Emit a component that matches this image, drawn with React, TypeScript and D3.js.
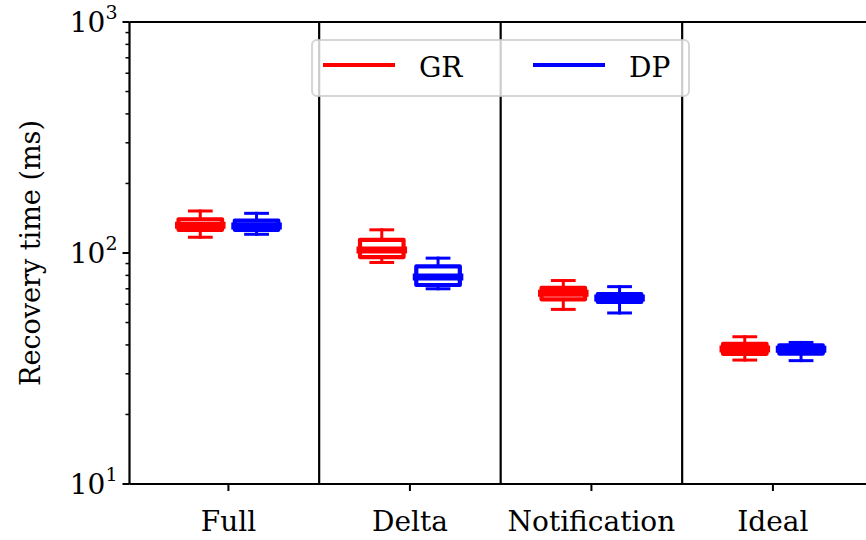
import * as d3 from "d3";

const WIDTH = 866;
const HEIGHT = 540;
const MARGIN = { top: 22, left: 129.5, bottom: 56 };

const categories = ["Full", "Delta", "Notification", "Ideal"];

// [lower whisker, q1, median, q3, upper whisker] per category
const grBoxes = [
  [117, 126, 132, 140, 152],
  [91, 96, 103, 114, 126],
  [57, 63, 67, 70.6, 76],
  [34.4, 36.6, 38.4, 40.4, 43.4],
];
const dpBoxes = [
  [120.5, 126, 131, 138, 148.5],
  [70, 72.7, 78.7, 87.5, 95],
  [55, 61.4, 63.8, 66.4, 71.5],
  [34.2, 36.7, 38.3, 39.8, 41],
];

const seriesList = [
  { name: "GR", color: "#ff0000", offset: -0.155, boxes: grBoxes },
  { name: "DP", color: "#0000ff", offset: 0.155, boxes: dpBoxes },
];

const yMajorTicks = [10, 100, 1000];
const yExponents = ["1", "2", "3"];

const FONT = "'DejaVu Serif', serif";

const App = () => {
  const bottom = HEIGHT - MARGIN.bottom;

  const xScale = d3
    .scaleLinear()
    .domain([-0.545, 3.545])
    .range([MARGIN.left, MARGIN.left + 4.09 * 181.5]);

  const yScale = d3.scaleLog().domain([10, 1000]).range([bottom, MARGIN.top]);

  const boxWidth = xScale(0.24) - xScale(0);

  const minorTicks = yScale
    .ticks()
    .filter((t) => !yMajorTicks.includes(t));

  const separators = categories.slice(1).map((_, i) => (
    <line
      key={i}
      x1={xScale(i + 0.5)}
      x2={xScale(i + 0.5)}
      y1={MARGIN.top}
      y2={bottom}
      stroke="black"
      strokeWidth={2.2}
    />
  ));

  const boxes = seriesList.flatMap((s) =>
    s.boxes.map((b, i) => {
      const cx = xScale(i + s.offset);
      const [lo, q1, med, q3, hi] = b.map((v) => yScale(v));
      const half = boxWidth / 2;
      return (
        <g
          key={s.name + i}
          stroke={s.color}
          fill="none"
          strokeLinecap="square"
          strokeLinejoin="round"
        >
          <line x1={cx} x2={cx} y1={q3} y2={hi} strokeWidth={3} />
          <line x1={cx} x2={cx} y1={q1} y2={lo} strokeWidth={3} />
          <line x1={cx - half / 2} x2={cx + half / 2} y1={hi} y2={hi} strokeWidth={3} />
          <line x1={cx - half / 2} x2={cx + half / 2} y1={lo} y2={lo} strokeWidth={3} />
          <rect x={cx - half} y={q3} width={boxWidth} height={q1 - q3} strokeWidth={4.2} />
          <line x1={cx - half} x2={cx + half} y1={med} y2={med} strokeWidth={7} />
        </g>
      );
    })
  );

  const yTicks = yMajorTicks.map((t, i) => (
    <g key={t}>
      <line
        x1={MARGIN.left - 7}
        x2={MARGIN.left}
        y1={yScale(t)}
        y2={yScale(t)}
        stroke="black"
        strokeWidth={2}
      />
      <text
        x={MARGIN.left - 12}
        y={yScale(t) + 10}
        textAnchor="end"
        fontSize={28}
        fontFamily={FONT}
      >
        <tspan>10</tspan>
        <tspan dy={-13} fontSize={19}>
          {yExponents[i]}
        </tspan>
      </text>
    </g>
  ));

  const yMinor = minorTicks.map((t) => (
    <line
      key={t}
      x1={MARGIN.left - 4}
      x2={MARGIN.left}
      y1={yScale(t)}
      y2={yScale(t)}
      stroke="black"
      strokeWidth={1.5}
    />
  ));

  const xTicks = categories.map((c, i) => (
    <g key={c}>
      <line
        x1={xScale(i)}
        x2={xScale(i)}
        y1={bottom}
        y2={bottom + 7}
        stroke="black"
        strokeWidth={2}
      />
      <text
        x={xScale(i)}
        y={bottom + 47}
        textAnchor="middle"
        fontSize={28}
        fontFamily={FONT}
      >
        {c}
      </text>
    </g>
  ));

  const legendX = 312;
  const legendY = 40;
  const legend = (
    <g>
      <rect
        x={legendX}
        y={legendY}
        width={377}
        height={56}
        rx={5}
        fill="white"
        fillOpacity={0.8}
        stroke="#cccccc"
        strokeOpacity={0.8}
        strokeWidth={2}
      />
      {seriesList.map((s, i) => {
        const x0 = legendX + 11 + i * 210;
        return (
          <g key={s.name}>
            <line
              x1={x0}
              x2={x0 + 72}
              y1={legendY + 25}
              y2={legendY + 25}
              stroke={s.color}
              strokeWidth={4}
            />
            <text
              x={x0 + 96}
              y={legendY + 37}
              fontSize={28}
              fontFamily={FONT}
            >
              {s.name}
            </text>
          </g>
        );
      })}
    </g>
  );

  return (
    <div style={{ position: "absolute", left: 0, top: 0 }}>
      <svg width={WIDTH} height={HEIGHT} style={{ display: "block" }}>
        <rect width={WIDTH} height={HEIGHT} fill="white" />
        {separators}
        {boxes}
        {legend}
        <line x1={MARGIN.left} x2={WIDTH + 10} y1={MARGIN.top} y2={MARGIN.top} stroke="black" strokeWidth={2.2} />
        <line x1={MARGIN.left} x2={WIDTH + 10} y1={bottom} y2={bottom} stroke="black" strokeWidth={2.2} />
        <line x1={MARGIN.left} x2={MARGIN.left} y1={MARGIN.top} y2={bottom} stroke="black" strokeWidth={2.2} />
        {yMinor}
        {yTicks}
        {xTicks}
        <text
          transform={`translate(30,${(MARGIN.top + bottom) / 2}) rotate(-90)`}
          textAnchor="middle"
          dominantBaseline="central"
          fontSize={27}
          fontFamily={FONT}
        >
          Recovery time (ms)
        </text>
      </svg>
    </div>
  );
};

export default App;
